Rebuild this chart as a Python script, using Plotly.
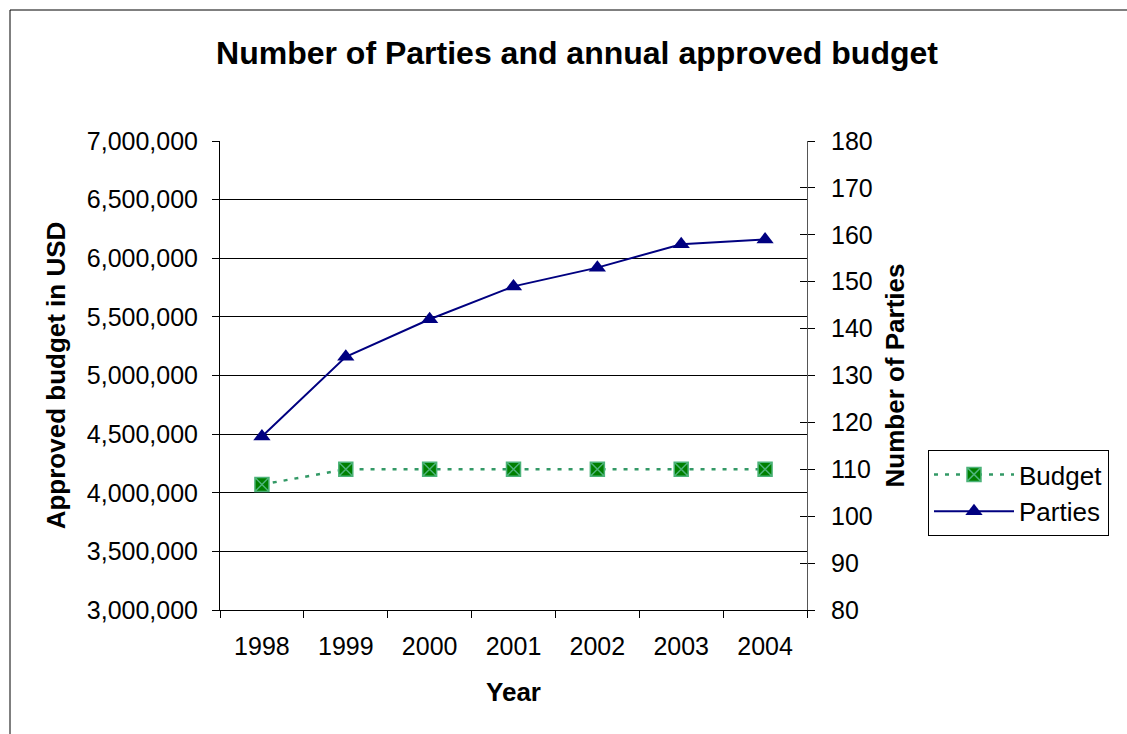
import plotly.graph_objects as go

years = ["1998", "1999", "2000", "2001", "2002", "2003", "2004"]
budget = [4070000, 4200000, 4200000, 4200000, 4200000, 4200000, 4200000]
parties = [117, 134, 142, 149, 153, 158, 159]

W, H = 1127, 734
L, R, T, B = 220, 807, 141, 610

fig = go.Figure()
fig.add_trace(go.Scatter(
    x=years, y=budget, name="Budget", mode="lines+markers",
    line=dict(color="#339966", width=2.5, dash="4px,7px"),
    marker=dict(symbol="square-x", size=14, color="#008000",
                line=dict(color="#4DB37A", width=1.5)),
    yaxis="y"))
fig.add_trace(go.Scatter(
    x=years, y=parties, name="Parties", mode="lines+markers",
    line=dict(color="#000080", width=2),
    marker=dict(symbol="triangle-up", size=15, color="#000080"),
    yaxis="y2"))

font = dict(family="Liberation Sans, Arial, sans-serif", size=25, color="black")

fig.update_layout(
    width=W, height=H, autosize=False,
    margin=dict(l=L, r=W - R, t=T, b=H - B, pad=0),
    paper_bgcolor="white", plot_bgcolor="white",
    font=font, separators=".,",
    title=dict(text="<b>Number of Parties and annual approved budget</b>",
               x=577 / W, xanchor="center", y=1 - 53 / H, yanchor="middle",
               font=dict(size=32)),
    xaxis=dict(type="category", range=[-0.5, 6.5], tickson="boundaries",
               ticks="outside", ticklen=7, tickcolor="black",
               showline=True, linecolor="black", linewidth=1, mirror=False,
               showgrid=False, ticklabelstandoff=14,
               title=dict(text="<b>Year</b>", standoff=23, font=dict(size=26))),
    yaxis=dict(range=[3000000, 7000000], dtick=500000, tickformat=",d",
               ticks="outside", ticklen=7, tickcolor="black",
               showline=True, linecolor="black", linewidth=1,
               showgrid=True, gridcolor="black", gridwidth=1,
               zeroline=False, ticklabelstandoff=9,
               title=dict(text="<b>Approved budget in USD</b>", standoff=13,
                          font=dict(size=26))),
    yaxis2=dict(range=[80, 180], dtick=10, overlaying="y", side="right",
                ticks="outside", ticklen=7, tickcolor="black",
                showline=True, linecolor="#555555", linewidth=1,
                showgrid=False, zeroline=False, ticklabelstandoff=11,
                title=dict(text="<b>Number of Parties</b>", standoff=14,
                           font=dict(size=26))),
    yaxis3=dict(range=[80, 180], dtick=10, overlaying="y", side="right",
                ticks="inside", ticklen=7, tickcolor="black",
                showticklabels=False, showgrid=False, zeroline=False,
                showline=False),
    legend=dict(x=(928 - L) / (R - L), xanchor="left",
                y=(B - 450) / (B - T), yanchor="top",
                bordercolor="black", borderwidth=1, bgcolor="white",
                font=dict(size=26), tracegroupgap=0, itemwidth=80),
    showlegend=True,
)

# dummy trace to render inside ticks on right axis
fig.add_trace(go.Scatter(x=[years[0]], y=[None], yaxis="y3", showlegend=False,
                         hoverinfo="skip"))

# outer chart border
fig.add_shape(type="rect", xref="paper", yref="paper",
              x0=(10 - L) / (R - L), x1=(1140 - L) / (R - L),
              y0=(B - 745) / (B - T), y1=(B - 10) / (B - T),
              line=dict(color="black", width=1), fillcolor="rgba(0,0,0,0)",
              layer="below")

fig.write_html("out.html")
